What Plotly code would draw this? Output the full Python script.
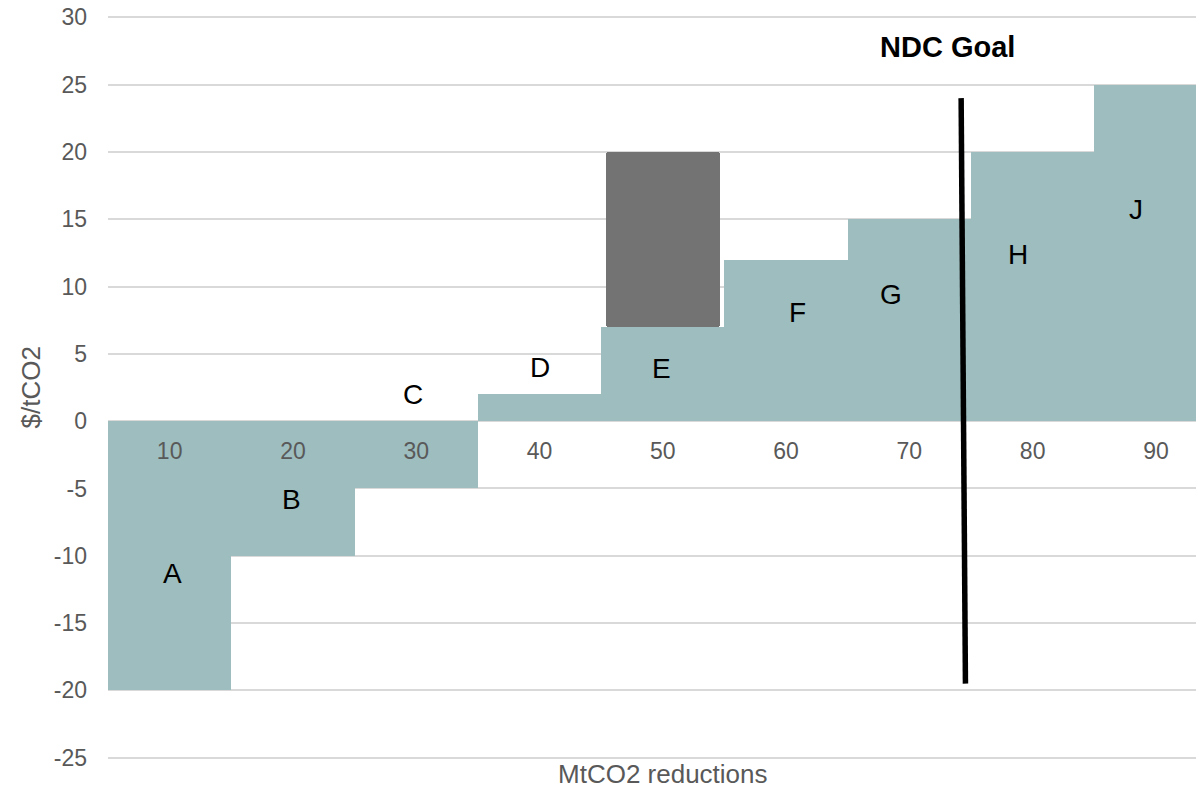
import plotly.graph_objects as go

# Abatement options: cumulative reduction slot (MtCO2) and cost ($/tCO2)
options = ["A", "B", "C", "D", "E", "F", "G", "H", "J"]
reductions = [10, 20, 30, 40, 50, 60, 70, 80, 90]
costs = [-20, -10, -5, 2, 7, 12, 15, 20, 25]

# Label anchor points for each option
label_x = [10.2, 19.9, 29.7, 40.0, 49.9, 60.9, 68.5, 78.8, 88.4]
label_y = [-11.3, -5.8, 2.0, 4.0, 3.9, 8.1, 9.4, 12.4, 15.7]

# Highlight block stacked on option E
block_x = [50]
block_base = [7]
block_height = [13]

# NDC goal marker
ndc_x = [74.2, 74.55]
ndc_y = [24, -19.5]
ndc_label = "NDC Goal"
ndc_label_pos = (73.1, 27.8)

y_ticks = list(range(-25, 31, 5))
y_tick_text = [str(v) for v in y_ticks]

TEAL = "#9dbdbe"
GREY_BLOCK = "#737374"
TICK_COLOR = "#595959"
GRID = "#d9d9d9"
FONT = "Liberation Sans, Arial, sans-serif"

fig = go.Figure()

fig.add_trace(go.Bar(
    x=reductions, y=costs, width=[10] * len(reductions),
    marker=dict(color=TEAL, line=dict(width=0)),
    hoverinfo="skip", showlegend=False,
))

fig.add_trace(go.Bar(
    x=block_x, y=block_height, base=block_base, width=[9.2],
    marker=dict(color=GREY_BLOCK, line=dict(width=0), cornerradius=3),
    hoverinfo="skip", showlegend=False,
))

fig.add_trace(go.Scatter(
    x=ndc_x, y=ndc_y, mode="lines",
    line=dict(color="black", width=5.5),
    hoverinfo="skip", showlegend=False,
))

annotations = []
for name, lx, ly in zip(options, label_x, label_y):
    annotations.append(dict(
        x=lx, y=ly, xref="x", yref="y", text=name, showarrow=False,
        font=dict(family=FONT, size=28, color="black"),
        xanchor="center", yanchor="middle",
    ))

annotations.append(dict(
    x=ndc_label_pos[0], y=ndc_label_pos[1], xref="x", yref="y",
    text=f"<b>{ndc_label}</b>", showarrow=False,
    font=dict(family=FONT, size=29, color="black"),
    xanchor="center", yanchor="middle",
))

annotations.append(dict(
    x=50, y=0, xref="x", yref="paper", text="MtCO2 reductions",
    showarrow=False, yanchor="middle", yshift=-15,
    font=dict(family=FONT, size=26, color=TICK_COLOR),
))
annotations.append(dict(
    x=0, y=0.5, xref="paper", yref="paper", text="$/tCO2",
    showarrow=False, textangle=-90, xanchor="center", yanchor="middle",
    xshift=-78,
    font=dict(family=FONT, size=26, color=TICK_COLOR),
))

fig.update_layout(
    width=1196, height=790,
    margin=dict(l=108, r=0, t=16, b=31),
    paper_bgcolor="white", plot_bgcolor="white",
    barmode="overlay", bargap=0,
    font=dict(family=FONT, color=TICK_COLOR),
    annotations=annotations,
    xaxis=dict(
        type="linear", range=[5, 93.25],
        tickvals=reductions, ticktext=[str(v) for v in reductions],
        anchor="free", position=25.1 / 55.2,
        showline=False, showgrid=False, zeroline=False,
        ticks="", ticklabelstandoff=14,
        tickfont=dict(family=FONT, size=23, color=TICK_COLOR),
    ),
    yaxis=dict(
        range=[-25.1, 30.1], tickvals=y_ticks, ticktext=y_tick_text,
        showgrid=True, gridcolor=GRID, gridwidth=1.5,
        zeroline=True, zerolinecolor=GRID, zerolinewidth=1.5,
        showline=False, ticks="", ticklabelstandoff=20,
        tickfont=dict(family=FONT, size=23, color=TICK_COLOR),
    ),
)

fig.write_html("out.html")
